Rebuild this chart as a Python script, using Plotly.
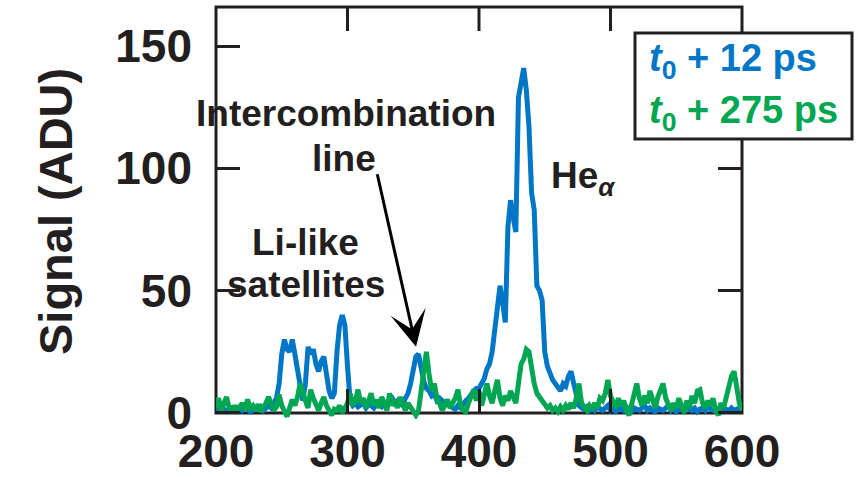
import plotly.graph_objects as go

# ---------------- data ----------------
x_pos = list(range(200, 601, 2))

signal_12ps = [
    1, 2, 1, 1.5, 0.5, 1, 2, 1, 1.5, 2.5,            # 200-218
    1, 2, 1.5, 0.5, 1, 2, 1.5, 2.5, 1, 2,            # 220-238
    3, 2, 4, 6, 12, 24, 30, 26, 25, 30,              # 240-258
    24, 17, 9, 5, 12, 27, 24, 26, 20, 17,            # 260-278
    21, 23, 16, 9, 6, 8, 25, 36, 40, 36,             # 280-298
    19, 5, 3, 4, 2.5, 3, 4, 2, 3.5, 3,               # 300-318
    2, 4, 3, 2.5, 4, 3, 5, 6, 4, 5,                  # 320-338
    4, 3, 6, 8, 12, 19, 23, 24, 17, 13,              # 340-358
    10, 9, 7, 8, 5, 6, 5, 4, 4.5, 3,                 # 360-378
    2, 1.5, 3, 2, 4, 5, 6, 8, 9, 10,                 # 380-398
    10, 12, 14, 18, 20, 25, 33, 42, 52, 45,          # 400-418
    37, 76, 87, 80, 74, 129, 136, 141, 132, 117,     # 420-438
    90, 83, 52, 50, 46, 25, 19, 16, 13.5, 12,        # 440-458
    10, 9, 12, 11, 15, 17, 12, 7, 3, 2,              # 460-478
    1.5, 2.5, 1, 2, 1, 2.5, 1.5, 1, 2, 3,            # 480-498
    1, 2, 0.5, 1.5, 2, 1, 2.5, 1, 0.5, 2,            # 500-518
    1.5, 1, 2, 3, 1, 2, 1, 0.5, 2, 1.5,              # 520-538
    1, 2, 3, 1, 2, 0.5, 1.5, 2, 1, 3,                # 540-558
    1.5, 1, 2, 0.5, 1.5, 2, 1, 3, 1.5, 1,            # 560-578
    2, 1, 0.5, 2, 1.5, 1, 2, 1, 1.5, 2,              # 580-598
    1.5,                                             # 600
]

signal_275ps = [
    2, 6, 1, 4, 6.5, 2, 0, 3, 1, 2.5,                # 200-218
    4, 1, 5.5, 2, 3, 1, 3.5, 0.5, 2, 4,              # 220-238
    6.5, 3, 1, 2.5, 7.5, 3, 0, -1.5, 2, 5.5,         # 240-258
    3, 6.5, 12, 8, 5, 2, 9.5, 6, 3, 1,               # 260-278
    4, 6.5, 3, 1, -1, 1.5, 1, 3, 0, 2,               # 280-298
    4, 8, 3, 5, 9.5, 4, 6, 2, 5, 8,                  # 300-318
    3, 5.5, 2, 6.5, 4, 1, 8, 3, 5, 2,                # 320-338
    6.5, 3, 1, 4, 2, 0.5, -1, 1, 8, 18,              # 340-358
    25, 16, 9, 12, 6, 4, 1, 3, 5.5, 2,               # 360-378
    4, 6, 9.5, 3, 1, 0.5, 4, 7, 9.5, 5,              # 380-398
    9, 3, 8, 12, 7, 4, 9, 13.5, 6, 3,                # 400-418
    7, 5, 9, 6, 4, 12, 20, 22, 26, 25,               # 420-438
    18, 12, 8, 6.5, 5, 4, 2, 3, 1, 2,                # 440-458
    0.5, 2.5, 1, 3, 1.5, 4, 2, 6, 12, 4,             # 460-478
    2, 1, 3, 1.5, 4, 2, 6, 5, 8, 13.5,               # 480-498
    7, 4, 2, 6, 3, 5, 1, -1, 4, 8,                   # 500-518
    12, 6, 3, 7, 4, 9, 5, 2, 6.5, 10,                # 520-538
    12, 6, 3, 1, 4, 2, 6, 3, 0, 5,                   # 540-558
    2, 7, 4, 9, 9.5, 4, 2, 5, 3, 6,                  # 560-578
    1, -1, 4, 2, 6.5, 10, 15, 17, 10, 4,             # 580-598
    1,                                               # 600
]

x_ticks = [200, 300, 400, 500, 600]
y_ticks = [0, 50, 100, 150]
series_names = ["<i>t</i><sub>0</sub> + 12 ps", "<i>t</i><sub>0</sub> + 275 ps"]

# ---------------- styling ----------------
BLUE = "#0077C6"
GREEN = "#00A651"
INK = "#231F20"
FONT = "Liberation Sans, Arial, Helvetica, sans-serif"

W, H = 858, 477
L, R, T, B = 216, 116, 7, 58
XMIN, XMAX = 200, 600
YMIN, YMAX = -2.5, 166
PW, PH = W - L - R, H - T - B
TICKLEN = 24


def px_x(px):
    return (px - L) / PW


def px_y(py):
    return (H - B - py) / PH


fig = go.Figure()
fig.add_trace(go.Scatter(x=x_pos, y=signal_12ps, mode="lines",
                         line=dict(color=BLUE, width=5), name="12 ps"))
fig.add_trace(go.Scatter(x=x_pos, y=signal_275ps, mode="lines",
                         line=dict(color=GREEN, width=5), name="275 ps"))

# mirrored tick marks along the top edge (built from the x tick list)
tick_len_data = TICKLEN / PH * (YMAX - YMIN)
top_x, top_y = [], []
for t in x_ticks[1:-1]:
    top_x += [t, t, None]
    top_y += [YMAX, YMAX - tick_len_data, None]
fig.add_trace(go.Scatter(x=top_x, y=top_y, mode="lines", line=dict(color=INK, width=3),
                         hoverinfo="skip", showlegend=False, connectgaps=False))

tickfont = dict(family=FONT, size=46, color=INK, weight="bold")
zero_paper = (0 - YMIN) / (YMAX - YMIN)

fig.update_layout(
    width=W, height=H,
    margin=dict(l=L, r=R, t=T, b=B, pad=0, autoexpand=False),
    paper_bgcolor="white", plot_bgcolor="white",
    showlegend=False,
    font=dict(family=FONT, color=INK),
    xaxis=dict(range=[XMIN, XMAX], autorange=False, anchor="free", position=zero_paper,
               tickvals=x_ticks, ticks="inside", ticklen=TICKLEN, tickwidth=3, tickcolor=INK,
               showgrid=False, zeroline=False, showline=False, automargin=False,
               tickfont=tickfont, ticklabelstandoff=7),
    yaxis=dict(range=[YMIN, YMAX], autorange=False, tickvals=y_ticks,
               ticks="inside", ticklen=TICKLEN, tickwidth=3, tickcolor=INK, mirror="ticks",
               showgrid=False, zeroline=False, showline=False, automargin=False,
               tickfont=tickfont, ticklabelstandoff=23),
)

# plot frame (bottom edge at signal = 0)
fig.add_shape(type="rect", xref="paper", yref="paper", x0=0, x1=1, y0=zero_paper, y1=1,
              line=dict(color=INK, width=3), fillcolor="rgba(0,0,0,0)", layer="below")
# legend box
fig.add_shape(type="rect", xref="paper", yref="paper",
              x0=px_x(635), x1=px_x(852), y0=px_y(139), y1=px_y(33),
              line=dict(color=INK, width=3), fillcolor="white", layer="above")

ann_font = dict(family=FONT, size=37, color=INK, weight="bold")


def text(s, cx, cy, anchor="center", font=ann_font):
    fig.add_annotation(text=s, xref="paper", yref="paper", x=px_x(cx), y=px_y(cy),
                       xanchor=anchor, yanchor="middle", showarrow=False, font=font)


text("Intercombination", 346, 113)
text("line", 344, 159)
text("Li-like", 305, 242)
text("satellites", 306, 285)
text("He<sub><i>α</i></sub>", 549, 178, anchor="left")

leg_font = dict(family=FONT, size=38, weight="bold")
text(series_names[0], 647, 61, anchor="left", font=dict(leg_font, color=BLUE))
text(series_names[1], 647, 113, anchor="left", font=dict(leg_font, color=GREEN))

# y-axis title
fig.add_annotation(text="Signal (ADU)", xref="paper", yref="paper", x=px_x(55), y=px_y(212),
                   textangle=-90, showarrow=False, xanchor="center", yanchor="middle",
                   font=dict(family=FONT, size=47, color=INK, weight="bold"))

# arrow to the intercombination line
fig.add_annotation(x=352.1, y=27.0, xref="x", yref="y", ax=322.4, ay=98.2, axref="x", ayref="y",
                   text="", showarrow=True, arrowhead=3, arrowsize=2.0, arrowwidth=3,
                   arrowcolor="black", standoff=0)

fig.write_html("out.html", config={"displayModeBar": False},
               post_script="document.body.style.margin='0px';")
